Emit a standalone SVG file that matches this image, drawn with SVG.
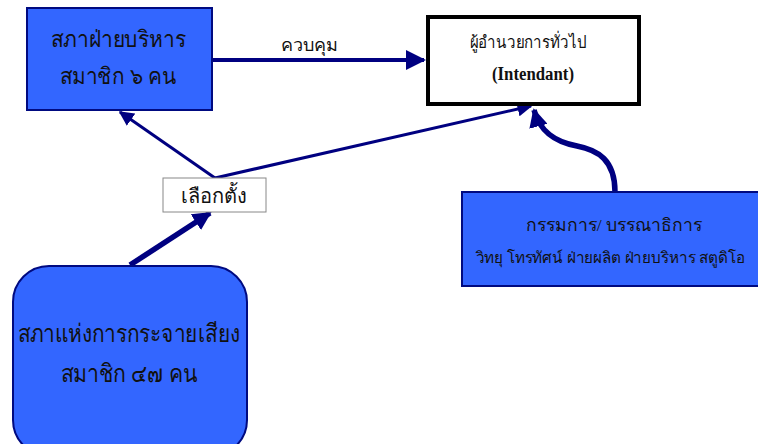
<svg xmlns="http://www.w3.org/2000/svg" width="758" height="444" viewBox="0 0 758 444">
<defs>
<style>
.blue{fill:#3366ff;stroke:#000a80;stroke-width:2}
.t{font-family:"Liberation Serif","Noto Sans",serif;fill:#111;text-anchor:middle}
.c{fill:none;stroke:#000080}
</style>
<marker id="ah" viewBox="0 0 10 10" refX="9" refY="5" markerWidth="5" markerHeight="5" orient="auto" markerUnits="strokeWidth">
<path d="M0,0 L10,5 L0,10 z" fill="#000080"/>
</marker>
<marker id="ah2" viewBox="0 0 10 10" refX="9" refY="5" markerWidth="3.4" markerHeight="3.4" orient="auto" markerUnits="strokeWidth">
<path d="M0,0 L10,5 L0,10 z" fill="#000080"/>
</marker>
</defs>
<rect width="758" height="444" fill="#fff"/>
<g id="connectors">
<line class="c" x1="212" y1="60" x2="424" y2="60" stroke-width="4" marker-end="url(#ah)"/>
<text class="t" x="309" y="51" font-size="18">ควบคุม</text>
<line class="c" x1="215" y1="178" x2="120" y2="112" stroke-width="3" marker-end="url(#ah)"/>
<line class="c" x1="215" y1="178" x2="531" y2="106" stroke-width="3" marker-end="url(#ah)"/>
<line class="c" x1="130" y1="265" x2="210" y2="213" stroke-width="5.5" marker-end="url(#ah2)"/>
<path class="c" d="M615,192 C615,160 598,150 577,146 C555,142 540,132 534,110" stroke-width="5.5" marker-end="url(#ah2)"/>
</g>
<g id="council-exec">
<rect class="blue" x="27" y="8" width="185" height="102"/>
<text class="t" x="118" y="47" font-size="23" textLength="135" lengthAdjust="spacingAndGlyphs">สภาฝ่ายบริหาร</text>
<text class="t" x="118" y="84" font-size="23" textLength="117" lengthAdjust="spacingAndGlyphs">สมาชิก ๖ คน</text>
</g>
<g id="intendant">
<rect x="428" y="17" width="211" height="87" fill="#fff" stroke="#000" stroke-width="4"/>
<text class="t" x="528" y="48" font-size="17" textLength="117" lengthAdjust="spacingAndGlyphs">ผู้อำนวยการทั่วไป</text>
<text class="t" x="533" y="80" font-size="18.5" font-weight="600" textLength="82" lengthAdjust="spacingAndGlyphs">(Intendant)</text>
</g>
<g id="election">
<rect x="163" y="178" width="103" height="34" fill="#fff" stroke="#888" stroke-width="1"/>
<text class="t" x="214" y="203" font-size="20">เลือกตั้ง</text>
</g>
<g id="board">
<rect class="blue" x="462" y="192" width="310" height="94"/>
<text class="t" x="614" y="231" font-size="17.5" textLength="177" lengthAdjust="spacingAndGlyphs">กรรมการ/ บรรณาธิการ</text>
<text class="t" x="610" y="263" font-size="15.5" textLength="269" lengthAdjust="spacingAndGlyphs">วิทยุ โทรทัศน์ ฝ่ายผลิต ฝ่ายบริหาร สตูดิโอ</text>
</g>
<g id="council-broadcast">
<rect class="blue" x="13" y="266" width="234" height="190" rx="36" ry="36"/>
<text class="t" x="129" y="342" font-size="25" textLength="223" lengthAdjust="spacingAndGlyphs">สภาแห่งการกระจายเสียง</text>
<text class="t" x="129" y="382" font-size="25" textLength="137" lengthAdjust="spacingAndGlyphs">สมาชิก ๔๗ คน</text>
</g>
</svg>
